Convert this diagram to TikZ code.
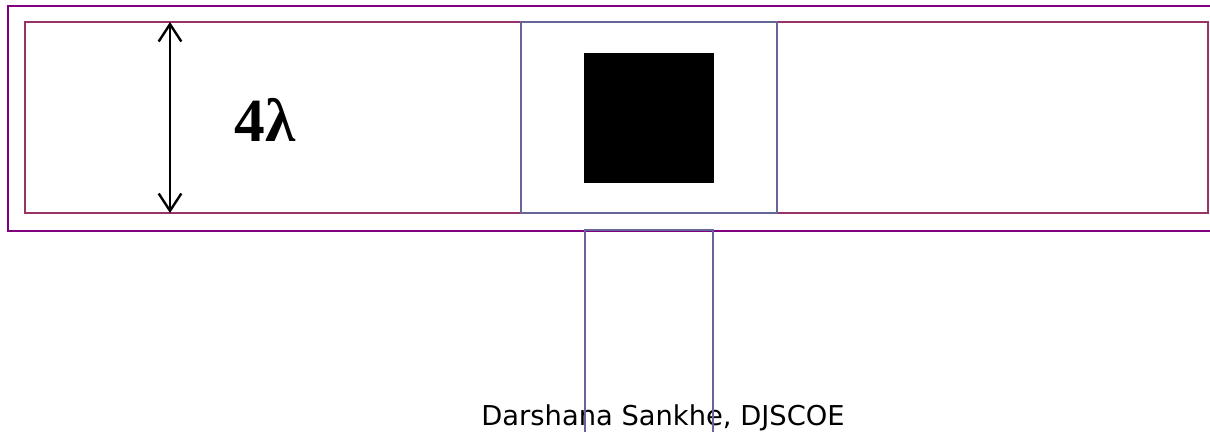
\documentclass[tikz,border=0pt]{standalone}
\usepackage{fontspec}
\setmainfont{Liberation Serif}
\newfontfamily\footfont{DejaVu Sans}
\usetikzlibrary{positioning, arrows.meta}

\definecolor{outerpurple}{HTML}{800080}
\definecolor{innerrose}{HTML}{993366}
\definecolor{slateblue}{HTML}{666699}

\begin{document}
\begin{tikzpicture}[
        x=0.75pt, y=-0.75pt,
        outer/.style = {draw=outerpurple, line width=1.6pt},
        inner/.style = {draw=innerrose, line width=1.5pt},
        cell/.style = {draw=slateblue, line width=1.5pt},
        feed/.style = {draw=slateblue, line width=1.3pt},
        dim/.style = {{Straight Barb[length=13pt, width=17pt]}-{Straight Barb[length=13pt, width=17pt]}, line width=1.8pt}
    ]
        \useasboundingbox (0,0) rectangle (1210,432);

        % guide frames
        \draw[outer] (1210,6) -- (8,6) -- (8,231) -- (1210,231);
        \draw[inner] (25,22) rectangle (1208,213);
        \draw[cell] (521,22) rectangle (777,213);

        % patch
        \fill[black] (584,53) rectangle (714,183);

        \node[font=\footfont\fontsize{20.5pt}{24pt}\selectfont, anchor=base] (author) at (663,425) {Darshana Sankhe, DJSCOE};

        % feed line
        \draw[feed] (585,432) -- (585,230) -- (713,230) -- (713,432);

        % height
        \coordinate (top) at (170,22);
        \coordinate (bottom) at (170,213);
        \draw[dim] (top) -- (bottom);
        \node[font=\fontsize{46pt}{50pt}\selectfont\bfseries] (height) at (265,120) {4λ};

    \end{tikzpicture}
\end{document}
